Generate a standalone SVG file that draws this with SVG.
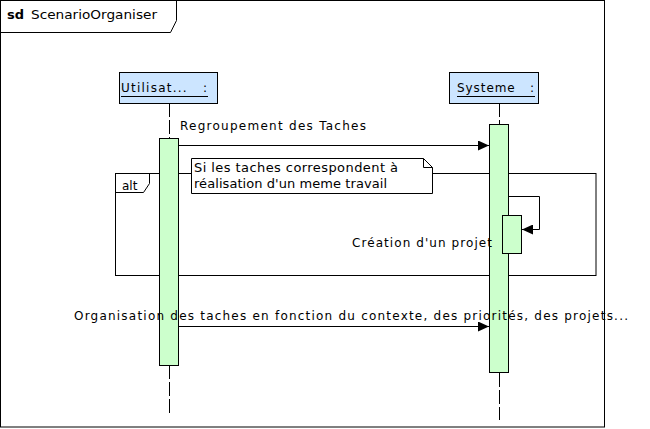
<svg xmlns="http://www.w3.org/2000/svg" width="650" height="429" viewBox="0 0 650 429">
<style>
text{font-family:"DejaVu Sans","Liberation Sans",sans-serif;font-size:12px;fill:#000}
.ln{stroke:#000;stroke-width:1;fill:none}
.box{fill:#cce5ff;stroke:#000;stroke-width:1}
.act{fill:#ccffcc;stroke:#000;stroke-width:1}
.life{stroke:#000;stroke-width:1;stroke-dasharray:14,3;fill:none}
.nt{font-size:13px}
</style>
<defs>
<marker id="ah" markerWidth="12" markerHeight="10" refX="11" refY="5" orient="auto" markerUnits="userSpaceOnUse">
<path d="M0,0 L11,5 L0,10 Z" fill="#000"/>
</marker>
</defs>
<rect width="650" height="429" fill="#fff"/>
<g id="frame">
<rect x="0.5" y="0.5" width="604" height="426.5" class="ln"/>
<path d="M0.5,32.5 H170.5 L176.5,20.5 V0.5" class="ln"/>
<text x="7" y="19" style="font-weight:bold;font-size:13px">sd</text>
<text x="31" y="19" textLength="126" lengthAdjust="spacingAndGlyphs">ScenarioOrganiser</text>
</g>
<g id="alt">
<rect x="115.5" y="173.5" width="480.5" height="102" class="ln"/>
<path d="M115.5,192.5 H143.5 L149.5,183.5 V173.5" class="ln"/>
<text x="122" y="190">alt</text>
</g>
<g id="utilisateur">
<line x1="169.5" y1="103" x2="169.5" y2="138" class="life"/>
<line x1="169.5" y1="365" x2="169.5" y2="413" class="life"/>
<rect x="119.5" y="72.5" width="98" height="31" class="box"/>
<text x="121" y="92" textLength="86" lengthAdjust="spacing" xml:space="preserve">Utilisat...   :</text>
<line x1="121" y1="96.5" x2="208" y2="96.5" class="ln"/>
<rect x="159.5" y="138.5" width="19" height="227" class="act"/>
</g>
<g id="systeme">
<line x1="499.5" y1="103" x2="499.5" y2="124" class="life"/>
<line x1="499.5" y1="373" x2="499.5" y2="420" class="life"/>
<rect x="449.5" y="72.5" width="89" height="31" class="box"/>
<text x="457" y="92" textLength="77" lengthAdjust="spacing" xml:space="preserve">Systeme   :</text>
<line x1="457" y1="96.5" x2="535" y2="96.5" class="ln"/>
<rect x="489.5" y="124.5" width="19" height="248" class="act"/>
<rect x="502.5" y="215.5" width="19" height="38" class="act"/>
</g>
<g id="note">
<path d="M191.5,158.5 H423.5 L432.5,167.5 V193.5 H191.5 Z" fill="#fff" stroke="#000"/>
<path d="M423.5,158.5 V167.5 H432.5" class="ln"/>
<text class="nt" x="194" y="172" textLength="204" lengthAdjust="spacing">Si les taches correspondent à</text>
<text class="nt" x="194" y="188" textLength="193" lengthAdjust="spacing">réalisation d'un meme travail</text>
</g>
<g id="connectors">
<line x1="179" y1="145.5" x2="489" y2="145.5" class="ln" marker-end="url(#ah)"/>
<path d="M509,196.5 H539.5 V229.5 H522" class="ln" marker-end="url(#ah)"/>
<line x1="179" y1="326.5" x2="489" y2="326.5" class="ln" marker-end="url(#ah)"/>
</g>
<g id="labels">
<text x="180" y="130" textLength="186" lengthAdjust="spacing">Regroupement des Taches</text>
<text x="352" y="247" textLength="140" lengthAdjust="spacing">Création d'un projet</text>
<text x="74" y="320" textLength="554" lengthAdjust="spacing">Organisation des taches en fonction du contexte, des priorités, des projets...</text>
</g>
</svg>
